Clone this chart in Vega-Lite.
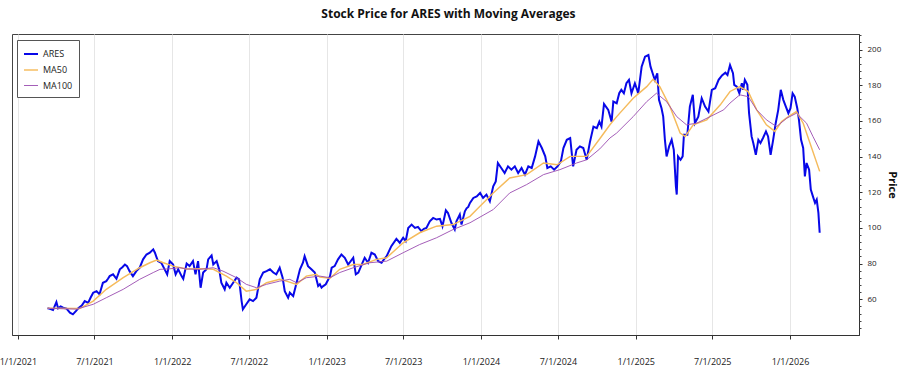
{
  "$schema": "https://vega.github.io/schema/vega-lite/v6.json",
  "width": 847,
  "height": 301,
  "autosize": {"type": "none"},
  "padding": {"left": 12, "top": 34, "right": 41, "bottom": 40},
  "background": "white",
  "title": {"text": "Stock Price for ARES with Moving Averages", "fontSize": 12, "fontWeight": "bold", "font": "Open Sans", "anchor": "middle", "frame": "bounds", "offset": 13, "color": "#111"},
  "config": {
    "view": {"stroke": "#444", "strokeWidth": 1},
    "font": "Open Sans",
    "legend": {"titleFontSize": 9}
  },
  "datasets": {
    "ares": [
      {"d":"2021-03-12","s":"ARES","v":55.0},{"d":"2021-03-16","s":"ARES","v":54.8},{"d":"2021-03-25","s":"ARES","v":54.0},{"d":"2021-04-02","s":"ARES","v":58.5},{"d":"2021-04-06","s":"ARES","v":55.0},{"d":"2021-04-12","s":"ARES","v":56.0},{"d":"2021-04-18","s":"ARES","v":55.3},{"d":"2021-04-26","s":"ARES","v":54.8},{"d":"2021-05-04","s":"ARES","v":52.5},{"d":"2021-05-11","s":"ARES","v":51.6},{"d":"2021-05-18","s":"ARES","v":53.4},{"d":"2021-05-23","s":"ARES","v":54.8},{"d":"2021-06-01","s":"ARES","v":56.5},{"d":"2021-06-08","s":"ARES","v":59.0},{"d":"2021-06-16","s":"ARES","v":58.0},{"d":"2021-06-22","s":"ARES","v":61.0},{"d":"2021-06-28","s":"ARES","v":63.7},{"d":"2021-07-06","s":"ARES","v":64.6},{"d":"2021-07-13","s":"ARES","v":62.8},{"d":"2021-07-21","s":"ARES","v":69.3},{"d":"2021-07-29","s":"ARES","v":70.2},{"d":"2021-08-02","s":"ARES","v":71.5},{"d":"2021-08-06","s":"ARES","v":73.0},{"d":"2021-08-14","s":"ARES","v":74.0},{"d":"2021-08-22","s":"ARES","v":71.5},{"d":"2021-08-30","s":"ARES","v":76.8},{"d":"2021-09-05","s":"ARES","v":78.0},{"d":"2021-09-11","s":"ARES","v":79.5},{"d":"2021-09-16","s":"ARES","v":78.6},{"d":"2021-09-22","s":"ARES","v":75.8},{"d":"2021-09-30","s":"ARES","v":73.0},{"d":"2021-10-08","s":"ARES","v":75.8},{"d":"2021-10-16","s":"ARES","v":77.7},{"d":"2021-10-24","s":"ARES","v":82.4},{"d":"2021-11-01","s":"ARES","v":85.1},{"d":"2021-11-09","s":"ARES","v":86.1},{"d":"2021-11-17","s":"ARES","v":88.0},{"d":"2021-11-21","s":"ARES","v":86.1},{"d":"2021-11-28","s":"ARES","v":81.4},{"d":"2021-12-06","s":"ARES","v":80.5},{"d":"2021-12-14","s":"ARES","v":76.8},{"d":"2021-12-20","s":"ARES","v":74.0},{"d":"2021-12-26","s":"ARES","v":81.4},
      {"d":"2022-01-03","s":"ARES","v":79.5},{"d":"2022-01-09","s":"ARES","v":74.0},{"d":"2022-01-15","s":"ARES","v":76.8},{"d":"2022-01-23","s":"ARES","v":73.0},{"d":"2022-01-27","s":"ARES","v":71.5},{"d":"2022-02-04","s":"ARES","v":80.0},{"d":"2022-02-11","s":"ARES","v":78.6},{"d":"2022-02-19","s":"ARES","v":81.4},{"d":"2022-02-25","s":"ARES","v":74.0},{"d":"2022-03-03","s":"ARES","v":81.4},{"d":"2022-03-09","s":"ARES","v":66.5},{"d":"2022-03-15","s":"ARES","v":75.0},{"d":"2022-03-23","s":"ARES","v":76.8},{"d":"2022-03-27","s":"ARES","v":82.4},{"d":"2022-04-04","s":"ARES","v":84.6},{"d":"2022-04-08","s":"ARES","v":79.5},{"d":"2022-04-16","s":"ARES","v":81.4},{"d":"2022-04-22","s":"ARES","v":76.8},{"d":"2022-04-27","s":"ARES","v":69.3},{"d":"2022-05-05","s":"ARES","v":65.6},{"d":"2022-05-09","s":"ARES","v":69.3},{"d":"2022-05-17","s":"ARES","v":66.5},{"d":"2022-05-25","s":"ARES","v":69.3},{"d":"2022-06-02","s":"ARES","v":72.1},{"d":"2022-06-08","s":"ARES","v":71.2},{"d":"2022-06-14","s":"ARES","v":59.0},{"d":"2022-06-17","s":"ARES","v":54.4},{"d":"2022-06-25","s":"ARES","v":57.2},{"d":"2022-07-03","s":"ARES","v":60.0},{"d":"2022-07-11","s":"ARES","v":59.0},{"d":"2022-07-19","s":"ARES","v":60.9},{"d":"2022-07-27","s":"ARES","v":71.2},{"d":"2022-08-04","s":"ARES","v":75.0},{"d":"2022-08-12","s":"ARES","v":75.8},{"d":"2022-08-20","s":"ARES","v":76.8},{"d":"2022-08-28","s":"ARES","v":75.0},{"d":"2022-09-04","s":"ARES","v":74.0},{"d":"2022-09-12","s":"ARES","v":77.7},{"d":"2022-09-19","s":"ARES","v":72.1},{"d":"2022-09-24","s":"ARES","v":64.6},{"d":"2022-10-02","s":"ARES","v":60.9},{"d":"2022-10-06","s":"ARES","v":63.7},{"d":"2022-10-14","s":"ARES","v":61.8},{"d":"2022-10-22","s":"ARES","v":69.3},{"d":"2022-10-30","s":"ARES","v":76.8},{"d":"2022-11-06","s":"ARES","v":80.5},{"d":"2022-11-10","s":"ARES","v":84.2},{"d":"2022-11-18","s":"ARES","v":78.6},{"d":"2022-11-26","s":"ARES","v":76.8},{"d":"2022-12-04","s":"ARES","v":75.0},{"d":"2022-12-12","s":"ARES","v":67.4},{"d":"2022-12-16","s":"ARES","v":68.4},{"d":"2022-12-20","s":"ARES","v":66.5},{"d":"2022-12-24","s":"ARES","v":67.4},{"d":"2022-12-30","s":"ARES","v":68.4},
      {"d":"2023-01-09","s":"ARES","v":73.0},{"d":"2023-01-13","s":"ARES","v":77.7},{"d":"2023-01-20","s":"ARES","v":78.6},{"d":"2023-01-28","s":"ARES","v":82.4},{"d":"2023-02-05","s":"ARES","v":85.1},{"d":"2023-02-13","s":"ARES","v":83.3},{"d":"2023-02-21","s":"ARES","v":79.5},{"d":"2023-03-05","s":"ARES","v":83.3},{"d":"2023-03-11","s":"ARES","v":74.0},{"d":"2023-03-17","s":"ARES","v":75.0},{"d":"2023-03-25","s":"ARES","v":79.5},{"d":"2023-04-01","s":"ARES","v":83.3},{"d":"2023-04-09","s":"ARES","v":80.5},{"d":"2023-04-17","s":"ARES","v":86.1},{"d":"2023-04-25","s":"ARES","v":85.1},{"d":"2023-05-03","s":"ARES","v":81.4},{"d":"2023-05-11","s":"ARES","v":80.5},{"d":"2023-05-17","s":"ARES","v":82.5},{"d":"2023-05-23","s":"ARES","v":84.2},{"d":"2023-06-03","s":"ARES","v":89.8},{"d":"2023-06-15","s":"ARES","v":93.9},{"d":"2023-06-23","s":"ARES","v":91.7},{"d":"2023-07-01","s":"ARES","v":94.5},{"d":"2023-07-07","s":"ARES","v":92.6},{"d":"2023-07-13","s":"ARES","v":100.0},{"d":"2023-07-21","s":"ARES","v":101.9},{"d":"2023-07-29","s":"ARES","v":100.0},{"d":"2023-08-05","s":"ARES","v":100.6},{"d":"2023-08-13","s":"ARES","v":98.2},{"d":"2023-08-19","s":"ARES","v":99.5},{"d":"2023-08-25","s":"ARES","v":100.0},{"d":"2023-09-02","s":"ARES","v":103.7},{"d":"2023-09-10","s":"ARES","v":105.6},{"d":"2023-09-18","s":"ARES","v":104.7},{"d":"2023-09-26","s":"ARES","v":105.1},{"d":"2023-10-02","s":"ARES","v":101.0},{"d":"2023-10-10","s":"ARES","v":109.9},{"d":"2023-10-15","s":"ARES","v":108.4},{"d":"2023-10-23","s":"ARES","v":102.9},{"d":"2023-10-31","s":"ARES","v":99.1},{"d":"2023-11-04","s":"ARES","v":103.7},{"d":"2023-11-12","s":"ARES","v":107.5},{"d":"2023-11-16","s":"ARES","v":101.9},{"d":"2023-11-24","s":"ARES","v":109.3},{"d":"2023-11-28","s":"ARES","v":111.0},{"d":"2023-12-02","s":"ARES","v":111.8},{"d":"2023-12-06","s":"ARES","v":114.0},{"d":"2023-12-14","s":"ARES","v":116.8},{"d":"2023-12-22","s":"ARES","v":117.7},{"d":"2023-12-30","s":"ARES","v":119.6},
      {"d":"2024-01-06","s":"ARES","v":116.8},{"d":"2024-01-14","s":"ARES","v":118.7},{"d":"2024-01-22","s":"ARES","v":114.9},{"d":"2024-01-30","s":"ARES","v":123.3},{"d":"2024-02-05","s":"ARES","v":126.1},{"d":"2024-02-10","s":"ARES","v":136.4},{"d":"2024-02-18","s":"ARES","v":133.6},{"d":"2024-02-26","s":"ARES","v":130.8},{"d":"2024-03-05","s":"ARES","v":134.5},{"d":"2024-03-13","s":"ARES","v":132.7},{"d":"2024-03-21","s":"ARES","v":134.5},{"d":"2024-03-29","s":"ARES","v":130.8},{"d":"2024-04-06","s":"ARES","v":133.6},{"d":"2024-04-14","s":"ARES","v":129.9},{"d":"2024-04-22","s":"ARES","v":134.5},{"d":"2024-04-30","s":"ARES","v":133.6},{"d":"2024-05-08","s":"ARES","v":140.1},{"d":"2024-05-16","s":"ARES","v":148.5},{"d":"2024-05-24","s":"ARES","v":144.8},{"d":"2024-06-01","s":"ARES","v":140.1},{"d":"2024-06-06","s":"ARES","v":133.6},{"d":"2024-06-14","s":"ARES","v":134.5},{"d":"2024-06-22","s":"ARES","v":132.7},{"d":"2024-06-30","s":"ARES","v":134.5},{"d":"2024-07-08","s":"ARES","v":137.3},{"d":"2024-07-14","s":"ARES","v":144.8},{"d":"2024-07-22","s":"ARES","v":149.4},{"d":"2024-07-30","s":"ARES","v":150.4},{"d":"2024-08-06","s":"ARES","v":134.5},{"d":"2024-08-14","s":"ARES","v":143.8},{"d":"2024-08-22","s":"ARES","v":145.7},{"d":"2024-08-30","s":"ARES","v":144.8},{"d":"2024-09-07","s":"ARES","v":138.2},{"d":"2024-09-15","s":"ARES","v":148.5},{"d":"2024-09-23","s":"ARES","v":156.8},{"d":"2024-10-01","s":"ARES","v":155.9},{"d":"2024-10-07","s":"ARES","v":159.6},{"d":"2024-10-12","s":"ARES","v":156.8},{"d":"2024-10-18","s":"ARES","v":169.5},{"d":"2024-10-28","s":"ARES","v":166.2},{"d":"2024-11-05","s":"ARES","v":159.6},{"d":"2024-11-09","s":"ARES","v":170.8},{"d":"2024-11-17","s":"ARES","v":169.9},{"d":"2024-11-23","s":"ARES","v":175.5},{"d":"2024-11-28","s":"ARES","v":177.4},{"d":"2024-12-04","s":"ARES","v":175.5},{"d":"2024-12-10","s":"ARES","v":181.1},{"d":"2024-12-16","s":"ARES","v":183.0},{"d":"2024-12-22","s":"ARES","v":175.5},{"d":"2024-12-30","s":"ARES","v":181.1},
      {"d":"2025-01-07","s":"ARES","v":175.5},{"d":"2025-01-15","s":"ARES","v":190.4},{"d":"2025-01-23","s":"ARES","v":196.0},{"d":"2025-01-31","s":"ARES","v":196.9},{"d":"2025-02-05","s":"ARES","v":190.4},{"d":"2025-02-10","s":"ARES","v":186.7},{"d":"2025-02-15","s":"ARES","v":183.0},{"d":"2025-02-21","s":"ARES","v":186.7},{"d":"2025-02-25","s":"ARES","v":171.8},{"d":"2025-03-03","s":"ARES","v":167.1},{"d":"2025-03-07","s":"ARES","v":162.4},{"d":"2025-03-11","s":"ARES","v":149.4},{"d":"2025-03-15","s":"ARES","v":140.1},{"d":"2025-03-21","s":"ARES","v":145.7},{"d":"2025-03-27","s":"ARES","v":149.4},{"d":"2025-04-01","s":"ARES","v":143.8},{"d":"2025-04-06","s":"ARES","v":123.3},{"d":"2025-04-08","s":"ARES","v":118.7},{"d":"2025-04-11","s":"ARES","v":140.1},{"d":"2025-04-17","s":"ARES","v":138.2},{"d":"2025-04-22","s":"ARES","v":140.1},{"d":"2025-04-25","s":"ARES","v":152.2},{"d":"2025-05-03","s":"ARES","v":152.2},{"d":"2025-05-09","s":"ARES","v":168.0},{"d":"2025-05-16","s":"ARES","v":174.6},{"d":"2025-05-21","s":"ARES","v":158.7},{"d":"2025-05-29","s":"ARES","v":162.4},{"d":"2025-06-06","s":"ARES","v":172.7},{"d":"2025-06-14","s":"ARES","v":168.0},{"d":"2025-06-22","s":"ARES","v":165.2},{"d":"2025-06-30","s":"ARES","v":177.4},{"d":"2025-07-08","s":"ARES","v":178.3},{"d":"2025-07-16","s":"ARES","v":183.0},{"d":"2025-07-24","s":"ARES","v":185.5},{"d":"2025-08-01","s":"ARES","v":187.0},{"d":"2025-08-06","s":"ARES","v":185.7},{"d":"2025-08-12","s":"ARES","v":191.3},{"d":"2025-08-19","s":"ARES","v":186.7},{"d":"2025-08-22","s":"ARES","v":180.2},{"d":"2025-08-28","s":"ARES","v":179.2},{"d":"2025-09-03","s":"ARES","v":175.5},{"d":"2025-09-09","s":"ARES","v":181.1},{"d":"2025-09-12","s":"ARES","v":177.4},{"d":"2025-09-16","s":"ARES","v":183.0},{"d":"2025-09-22","s":"ARES","v":180.2},{"d":"2025-09-26","s":"ARES","v":164.3},{"d":"2025-10-02","s":"ARES","v":151.3},{"d":"2025-10-06","s":"ARES","v":147.6},{"d":"2025-10-12","s":"ARES","v":141.0},{"d":"2025-10-18","s":"ARES","v":149.4},{"d":"2025-10-23","s":"ARES","v":147.6},{"d":"2025-10-29","s":"ARES","v":150.4},{"d":"2025-11-05","s":"ARES","v":154.1},{"d":"2025-11-10","s":"ARES","v":151.3},{"d":"2025-11-16","s":"ARES","v":141.0},{"d":"2025-11-22","s":"ARES","v":149.4},{"d":"2025-11-28","s":"ARES","v":158.7},{"d":"2025-12-04","s":"ARES","v":166.2},{"d":"2025-12-10","s":"ARES","v":177.4},{"d":"2025-12-16","s":"ARES","v":171.8},{"d":"2025-12-22","s":"ARES","v":168.0},{"d":"2025-12-28","s":"ARES","v":164.3},
      {"d":"2026-01-02","s":"ARES","v":167.1},{"d":"2026-01-07","s":"ARES","v":175.5},{"d":"2026-01-12","s":"ARES","v":173.6},{"d":"2026-01-18","s":"ARES","v":167.1},{"d":"2026-01-22","s":"ARES","v":160.6},{"d":"2026-01-27","s":"ARES","v":149.4},{"d":"2026-02-01","s":"ARES","v":144.8},{"d":"2026-02-05","s":"ARES","v":128.9},{"d":"2026-02-09","s":"ARES","v":136.4},{"d":"2026-02-15","s":"ARES","v":132.7},{"d":"2026-02-19","s":"ARES","v":121.5},{"d":"2026-02-24","s":"ARES","v":117.7},{"d":"2026-03-01","s":"ARES","v":114.0},{"d":"2026-03-05","s":"ARES","v":115.9},{"d":"2026-03-09","s":"ARES","v":108.4},{"d":"2026-03-12","s":"ARES","v":97.3}
    ],
    "ma": [
      {"d":"2021-03-12","s":"MA50","v":55.0},{"d":"2021-05-27","s":"MA50","v":54.8},{"d":"2021-06-28","s":"MA50","v":59.0},{"d":"2021-07-29","s":"MA50","v":65.6},{"d":"2021-09-07","s":"MA50","v":72.1},{"d":"2021-10-16","s":"MA50","v":77.7},{"d":"2021-11-09","s":"MA50","v":80.5},{"d":"2021-11-25","s":"MA50","v":82.0},{"d":"2021-12-11","s":"MA50","v":80.5},{"d":"2022-01-03","s":"MA50","v":78.6},{"d":"2022-02-04","s":"MA50","v":77.0},{"d":"2022-03-07","s":"MA50","v":77.2},{"d":"2022-04-08","s":"MA50","v":76.8},{"d":"2022-05-09","s":"MA50","v":73.0},{"d":"2022-06-02","s":"MA50","v":69.3},{"d":"2022-06-25","s":"MA50","v":64.6},{"d":"2022-07-19","s":"MA50","v":65.6},{"d":"2022-08-12","s":"MA50","v":69.3},{"d":"2022-09-12","s":"MA50","v":71.2},{"d":"2022-09-28","s":"MA50","v":70.2},{"d":"2022-10-22","s":"MA50","v":68.4},{"d":"2022-11-14","s":"MA50","v":73.0},{"d":"2022-12-08","s":"MA50","v":74.0},{"d":"2022-12-16","s":"MA50","v":72.5},{"d":"2023-01-09","s":"MA50","v":71.8},{"d":"2023-02-01","s":"MA50","v":76.8},{"d":"2023-03-05","s":"MA50","v":79.5},{"d":"2023-03-28","s":"MA50","v":79.5},{"d":"2023-04-29","s":"MA50","v":82.4},{"d":"2023-05-23","s":"MA50","v":83.3},{"d":"2023-07-01","s":"MA50","v":91.7},{"d":"2023-08-09","s":"MA50","v":97.3},{"d":"2023-09-18","s":"MA50","v":101.0},{"d":"2023-10-27","s":"MA50","v":101.9},{"d":"2023-12-06","s":"MA50","v":106.5},{"d":"2023-12-22","s":"MA50","v":110.3},{"d":"2024-01-30","s":"MA50","v":119.6},{"d":"2024-03-09","s":"MA50","v":128.0},{"d":"2024-04-18","s":"MA50","v":129.9},{"d":"2024-05-28","s":"MA50","v":136.4},{"d":"2024-06-29","s":"MA50","v":135.4},{"d":"2024-07-30","s":"MA50","v":140.1},{"d":"2024-09-07","s":"MA50","v":140.1},{"d":"2024-10-08","s":"MA50","v":150.0},{"d":"2024-11-01","s":"MA50","v":157.8},{"d":"2024-11-17","s":"MA50","v":162.4},{"d":"2024-12-26","s":"MA50","v":172.7},{"d":"2025-01-27","s":"MA50","v":179.2},{"d":"2025-02-11","s":"MA50","v":183.3},{"d":"2025-02-27","s":"MA50","v":179.2},{"d":"2025-03-23","s":"MA50","v":168.0},{"d":"2025-04-16","s":"MA50","v":153.2},{"d":"2025-04-28","s":"MA50","v":151.3},{"d":"2025-05-17","s":"MA50","v":157.8},{"d":"2025-06-18","s":"MA50","v":160.6},{"d":"2025-07-20","s":"MA50","v":169.0},{"d":"2025-08-12","s":"MA50","v":176.5},{"d":"2025-09-04","s":"MA50","v":179.2},{"d":"2025-09-24","s":"MA50","v":176.4},{"d":"2025-10-14","s":"MA50","v":166.2},{"d":"2025-11-06","s":"MA50","v":157.8},{"d":"2025-11-26","s":"MA50","v":154.1},{"d":"2025-12-12","s":"MA50","v":159.6},{"d":"2025-12-28","s":"MA50","v":162.4},{"d":"2026-01-16","s":"MA50","v":165.2},{"d":"2026-02-01","s":"MA50","v":158.7},{"d":"2026-02-17","s":"MA50","v":147.6},{"d":"2026-03-12","s":"MA50","v":131.7},
      {"d":"2021-03-12","s":"MA100","v":55.0},{"d":"2021-05-20","s":"MA100","v":54.5},{"d":"2021-06-28","s":"MA100","v":57.2},{"d":"2021-07-29","s":"MA100","v":60.9},{"d":"2021-09-07","s":"MA100","v":65.6},{"d":"2021-10-16","s":"MA100","v":71.2},{"d":"2021-11-17","s":"MA100","v":75.0},{"d":"2021-12-03","s":"MA100","v":76.8},{"d":"2021-12-26","s":"MA100","v":77.1},{"d":"2022-01-19","s":"MA100","v":77.7},{"d":"2022-02-04","s":"MA100","v":77.0},{"d":"2022-03-07","s":"MA100","v":76.8},{"d":"2022-04-08","s":"MA100","v":77.7},{"d":"2022-05-01","s":"MA100","v":75.8},{"d":"2022-06-02","s":"MA100","v":72.1},{"d":"2022-06-25","s":"MA100","v":68.4},{"d":"2022-07-19","s":"MA100","v":66.5},{"d":"2022-08-12","s":"MA100","v":68.4},{"d":"2022-09-12","s":"MA100","v":70.2},{"d":"2022-10-06","s":"MA100","v":71.2},{"d":"2022-10-22","s":"MA100","v":69.3},{"d":"2022-11-14","s":"MA100","v":72.1},{"d":"2022-12-16","s":"MA100","v":73.0},{"d":"2023-01-09","s":"MA100","v":72.1},{"d":"2023-02-01","s":"MA100","v":75.0},{"d":"2023-03-05","s":"MA100","v":77.7},{"d":"2023-04-13","s":"MA100","v":80.5},{"d":"2023-05-23","s":"MA100","v":81.4},{"d":"2023-07-01","s":"MA100","v":86.1},{"d":"2023-08-09","s":"MA100","v":90.7},{"d":"2023-09-18","s":"MA100","v":94.5},{"d":"2023-10-27","s":"MA100","v":99.1},{"d":"2023-12-06","s":"MA100","v":102.9},{"d":"2024-01-30","s":"MA100","v":110.3},{"d":"2024-03-09","s":"MA100","v":119.6},{"d":"2024-04-18","s":"MA100","v":124.3},{"d":"2024-05-28","s":"MA100","v":129.9},{"d":"2024-07-06","s":"MA100","v":132.7},{"d":"2024-08-14","s":"MA100","v":136.4},{"d":"2024-09-07","s":"MA100","v":138.2},{"d":"2024-10-08","s":"MA100","v":144.3},{"d":"2024-11-01","s":"MA100","v":150.4},{"d":"2024-11-17","s":"MA100","v":153.2},{"d":"2024-12-26","s":"MA100","v":162.4},{"d":"2025-01-27","s":"MA100","v":170.8},{"d":"2025-02-19","s":"MA100","v":175.5},{"d":"2025-03-15","s":"MA100","v":170.8},{"d":"2025-04-08","s":"MA100","v":162.4},{"d":"2025-05-01","s":"MA100","v":157.8},{"d":"2025-05-25","s":"MA100","v":158.7},{"d":"2025-06-26","s":"MA100","v":162.4},{"d":"2025-07-28","s":"MA100","v":166.2},{"d":"2025-08-12","s":"MA100","v":170.0},{"d":"2025-09-04","s":"MA100","v":174.6},{"d":"2025-09-24","s":"MA100","v":173.6},{"d":"2025-10-14","s":"MA100","v":166.2},{"d":"2025-11-06","s":"MA100","v":160.6},{"d":"2025-11-30","s":"MA100","v":156.8},{"d":"2025-12-24","s":"MA100","v":161.5},{"d":"2026-01-16","s":"MA100","v":164.3},{"d":"2026-02-09","s":"MA100","v":158.7},{"d":"2026-02-24","s":"MA100","v":151.3},{"d":"2026-03-12","s":"MA100","v":143.8}
    ]
  },
  "encoding": {
    "x": {"field": "d", "type": "temporal", "scale": {"domain": ["2020-12-18", "2026-06-13"]},
      "axis": {"title": null, "format": "%-m/%-d/%Y", "tickCount": {"interval": "month", "step": 6}, "grid": true, "gridColor": "#e6e6e6", "domainColor": "#333", "tickColor": "#333", "tickSize": 4, "labelPadding": 18, "labelFontSize": 9, "labelColor": "#222", "labelFlush": false, "labelOverlap": false}},
    "color": {"field": "s", "type": "nominal", "scale": {"domain": ["ARES", "MA50", "MA100"], "range": ["#0808e8", "#f5bb5c", "#9a4cb0"]},
      "legend": {"title": null, "orient": "none", "legendX": 5, "legendY": 6, "fillColor": "white", "strokeColor": "#555", "padding": 6, "symbolType": "stroke", "symbolSize": 196, "rowPadding": 3, "labelFontSize": 9, "labelColor": "#222", "labelOffset": 4}},
    "strokeWidth": {"field": "s", "type": "nominal", "scale": {"domain": ["ARES", "MA50", "MA100"], "range": [2, 0.9, 0.9]}, "legend": null}
  },
  "layer": [
    {
      "data": {"name": "ares"},
      "mark": {"type": "line", "interpolate": "linear"},
      "encoding": {
        "y": {"field": "v", "type": "quantitative", "scale": {"domain": [40, 208.7], "nice": false, "zero": false},
          "axis": {"orient": "right", "title": "Price", "titleAngle": 90, "titleFontSize": 11, "titleFontWeight": "bold", "titleColor": "#111", "titlePadding": 6, "values": [60, 80, 100, 120, 140, 160, 180, 200], "grid": false, "domainColor": "#333", "tickColor": "#333", "tickSize": 3, "labelPadding": 5, "labelFontSize": 8, "labelColor": "#222"}}
      }
    },
    {
      "data": {"name": "ma"},
      "mark": {"type": "line", "interpolate": "linear"},
      "encoding": {
        "y": {"field": "v", "type": "quantitative",
          "axis": {"orient": "right", "title": null, "labels": false, "domain": false, "grid": false, "tickColor": "#444", "tickSize": 2, "values": [44, 48, 52, 56, 64, 68, 72, 76, 84, 88, 92, 96, 104, 108, 112, 116, 124, 128, 132, 136, 144, 148, 152, 156, 164, 168, 172, 176, 184, 188, 192, 196, 204, 208]}}
      }
    }
  ],
  "resolve": {"scale": {"y": "shared"}, "axis": {"y": "independent"}}
}
